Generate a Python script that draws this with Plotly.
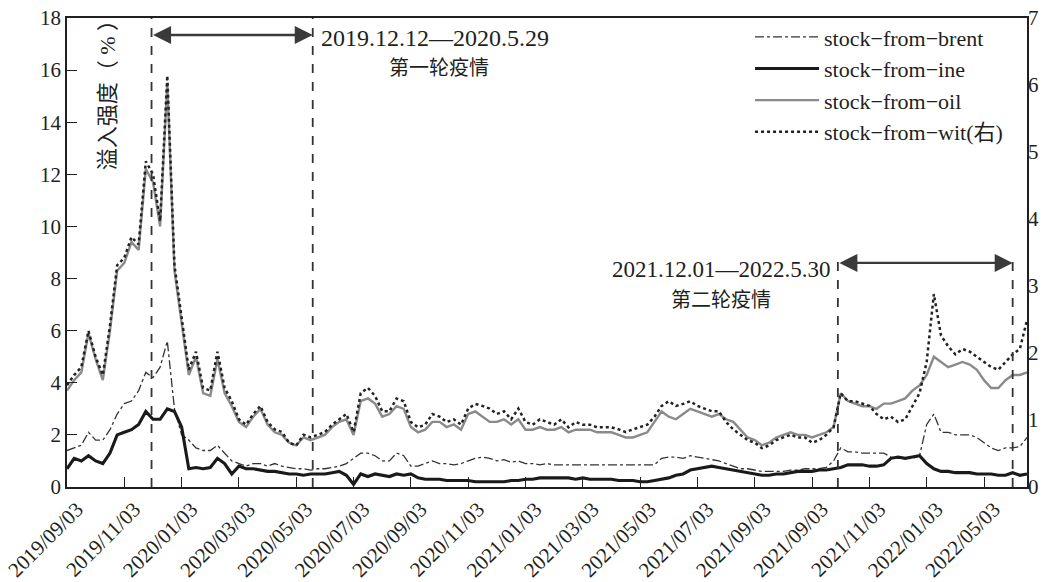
import plotly.graph_objects as go

# ---------------- data (sample index ~ every 5 trading days) ----------------
tick_labels = ["2019/09/03", "2019/11/03", "2020/01/03", "2020/03/03", "2020/05/03",
               "2020/07/03", "2020/09/03", "2020/11/03", "2021/01/03", "2021/03/03",
               "2021/05/03", "2021/07/03", "2021/09/03", "2021/09/03", "2021/11/03",
               "2022/01/03", "2022/05/03"]
tick_positions = [0, 8, 16, 24, 32, 40, 48, 56, 64, 72, 80, 88, 96, 104, 112, 120, 128]

# left axis (%)
brent = [1.4, 1.5, 1.6, 2.1, 1.8, 1.8, 2.2, 2.8, 3.2, 3.3, 3.7, 4.4, 4.2, 4.6, 5.6, 3.0, 2.0,
         1.8, 1.5, 1.4, 1.4, 1.6, 1.3, 1.0, 0.9, 0.8, 0.9, 0.9, 0.8, 0.9, 0.8, 0.75, 0.7, 0.7,
         0.65, 0.7, 0.7, 0.75, 0.8, 0.9, 1.1, 1.3, 1.3, 1.2, 1.0, 1.0, 1.3, 1.2, 0.8, 0.8, 0.9,
         1.0, 0.9, 0.9, 0.85, 0.9, 1.0, 1.1, 1.15, 1.1, 1.0, 1.05, 0.95, 1.0, 0.9, 0.9, 0.85,
         0.9, 0.85, 0.85, 0.85, 0.85, 0.85, 0.85, 0.85, 0.85, 0.85, 0.85, 0.85, 0.85, 0.85,
         0.85, 0.85, 1.1, 1.15, 1.15, 1.1, 1.2, 1.15, 1.1, 1.05, 1.0, 0.9, 0.8, 0.7, 0.7, 0.65,
         0.6, 0.6, 0.6, 0.6, 0.65, 0.65, 0.7, 0.7, 0.7, 0.75, 1.0, 1.5, 1.35, 1.35, 1.3, 1.3,
         1.3, 1.3, 1.15, 1.1, 1.1, 1.1, 1.2, 2.4, 2.8, 2.1, 2.1, 2.0, 2.0, 2.0, 1.9, 1.7, 1.5,
         1.4, 1.5, 1.5, 1.55, 1.9]

ine = [0.7, 1.1, 1.0, 1.2, 1.0, 0.9, 1.3, 2.0, 2.1, 2.2, 2.4, 2.9, 2.6, 2.6, 3.0, 2.9, 2.3,
       0.7, 0.75, 0.7, 0.75, 1.1, 0.9, 0.5, 0.8, 0.7, 0.7, 0.65, 0.6, 0.6, 0.55, 0.5, 0.5, 0.45,
       0.5, 0.5, 0.5, 0.55, 0.6, 0.45, 0.1, 0.5, 0.4, 0.5, 0.45, 0.4, 0.5, 0.45, 0.5, 0.35, 0.3,
       0.3, 0.3, 0.25, 0.25, 0.25, 0.25, 0.2, 0.2, 0.2, 0.2, 0.2, 0.25, 0.25, 0.3, 0.3, 0.35,
       0.35, 0.35, 0.35, 0.35, 0.3, 0.35, 0.3, 0.3, 0.3, 0.3, 0.25, 0.25, 0.25, 0.2, 0.2, 0.25,
       0.3, 0.35, 0.45, 0.5, 0.65, 0.7, 0.75, 0.8, 0.75, 0.7, 0.65, 0.6, 0.55, 0.5, 0.45, 0.45,
       0.5, 0.5, 0.55, 0.6, 0.6, 0.6, 0.65, 0.65, 0.7, 0.75, 0.85, 0.85, 0.85, 0.8, 0.8, 0.85,
       1.1, 1.15, 1.1, 1.15, 1.2, 0.9, 0.7, 0.6, 0.6, 0.55, 0.55, 0.55, 0.5, 0.5, 0.5, 0.45,
       0.45, 0.55, 0.45, 0.5]

oil = [3.7, 4.1, 4.4, 5.9, 4.9, 4.1, 6.0, 8.3, 8.6, 9.4, 9.1, 12.2, 11.7, 10.0, 15.5, 8.3, 6.3,
       4.3, 5.0, 3.6, 3.5, 4.9, 3.6, 3.1, 2.5, 2.3, 2.7, 3.0, 2.4, 2.1, 2.0, 1.7, 1.6, 1.9, 1.8,
       1.9, 2.0, 2.3, 2.5, 2.6, 2.0, 3.3, 3.4, 3.2, 2.7, 2.8, 3.1, 3.0, 2.3, 2.1, 2.2, 2.5, 2.5,
       2.3, 2.4, 2.2, 2.8, 2.9, 2.7, 2.5, 2.5, 2.6, 2.4, 2.6, 2.2, 2.2, 2.3, 2.2, 2.2, 2.3, 2.1,
       2.2, 2.2, 2.2, 2.1, 2.1, 2.1, 2.0, 1.9, 1.9, 2.0, 2.1, 2.5, 2.9, 2.7, 2.6, 2.8, 3.0, 2.9,
       2.8, 2.7, 2.8, 2.6, 2.5, 2.2, 1.9, 1.8, 1.6, 1.7, 1.9, 2.0, 2.1, 2.0, 2.0, 1.9, 2.0, 2.1,
       2.3, 3.6, 3.3, 3.2, 3.1, 3.1, 3.0, 3.2, 3.2, 3.3, 3.4, 3.7, 3.9, 4.3, 5.0, 4.8, 4.6, 4.7,
       4.8, 4.7, 4.5, 4.1, 3.8, 3.8, 4.1, 4.3, 4.3, 4.4]

# right axis
wit = [1.52, 1.67, 1.79, 2.33, 1.94, 1.67, 2.41, 3.31, 3.42, 3.73, 3.62, 4.86, 4.67, 3.97, 6.14,
       3.31, 2.53, 1.75, 2.02, 1.48, 1.44, 2.02, 1.48, 1.28, 1.01, 0.93, 1.09, 1.21, 0.97, 0.86,
       0.82, 0.66, 0.62, 0.78, 0.74, 0.78, 0.82, 0.93, 1.01, 1.09, 0.82, 1.40, 1.48, 1.36, 1.13,
       1.13, 1.32, 1.28, 0.97, 0.89, 0.93, 1.09, 1.05, 0.97, 1.01, 0.93, 1.17, 1.24, 1.21, 1.17,
       1.09, 1.13, 1.01, 1.17, 0.97, 0.93, 1.01, 0.97, 0.93, 1.01, 0.89, 0.97, 0.93, 0.93, 0.89,
       0.89, 0.89, 0.86, 0.82, 0.86, 0.89, 0.93, 1.05, 1.21, 1.28, 1.21, 1.24, 1.28, 1.21, 1.17,
       1.13, 1.13, 0.97, 0.86, 0.78, 0.70, 0.66, 0.58, 0.62, 0.70, 0.74, 0.78, 0.74, 0.74, 0.66,
       0.70, 0.78, 0.89, 1.40, 1.28, 1.28, 1.24, 1.21, 1.09, 1.01, 1.05, 0.97, 1.01, 1.21, 1.40,
       1.87, 2.88, 2.26, 2.10, 1.98, 2.06, 2.02, 1.94, 1.87, 1.79, 1.75, 1.87, 1.98, 2.06, 2.49]

period1 = (11.8, 34.3)      # 2019.12.12 - 2020.5.29 (sample index)
period2 = (107.6, 132.0)    # 2021.12.01 - 2022.5.30 (sample index)
x_max = 134

SERIF = "Liberation Serif, Noto Sans CJK SC, serif"
INK = "#231f20"

fig = go.Figure()

def idx(series):
    return list(range(len(series)))

fig.add_trace(go.Scatter(x=idx(oil), y=oil, mode="lines", name="stock\u2212from\u2212oil",
                         line=dict(color="#8a8a8a", width=2.4), legendrank=3,
                         legendgroup="c"))
fig.add_trace(go.Scatter(x=idx(wit), y=wit, mode="lines", name="stock\u2212from\u2212wit(右)",
                         line=dict(color="#222222", width=2.5, dash="dot"), yaxis="y2",
                         legendrank=4, legendgroup="d"))
fig.add_trace(go.Scatter(x=idx(brent), y=brent, mode="lines", name="stock\u2212from\u2212brent",
                         line=dict(color="#333333", width=1.3, dash="dashdot"), legendrank=1,
                         legendgroup="a"))
fig.add_trace(go.Scatter(x=idx(ine), y=ine, mode="lines", name="stock\u2212from\u2212ine",
                         line=dict(color="#1a1a1a", width=3.1), legendrank=2, legendgroup="b"))

# vertical dashed lines
for xv, ytop in [(period1[0], 18), (period1[1], 18), (period2[0], 8.8), (period2[1], 8.8)]:
    fig.add_shape(type="line", x0=xv, x1=xv, y0=0, y1=ytop, xref="x", yref="y",
                  line=dict(color="#333333", width=1.8, dash="dash"))

# double-headed arrows
for (x0, x1), yv in [(period1, 17.35), (period2, 8.6)]:
    fig.add_annotation(x=x1, y=yv, ax=x0, ay=yv, xref="x", yref="y", axref="x", ayref="y",
                       text="", showarrow=True, arrowhead=2, arrowside="end+start",
                       arrowsize=1.5, arrowwidth=2.4, arrowcolor="#3a3a3a")

lat_font = dict(family=SERIF, size=23, color=INK)
cjk_font = dict(family=SERIF, size=20, color=INK)
fig.add_annotation(x=51.4, y=17.23, xref="x", yref="y", text="2019.12.12\u20142020.5.29",
                   showarrow=False, font=dict(family=SERIF, size=24, color=INK))
fig.add_annotation(x=51.9, y=16.08, xref="x", yref="y", text="第一轮疫情",
                   showarrow=False, font=cjk_font)
fig.add_annotation(x=91.3, y=8.33, xref="x", yref="y", text="2021.12.01\u20142022.5.30",
                   showarrow=False, font=lat_font)
fig.add_annotation(x=91.3, y=7.18, xref="x", yref="y", text="第二轮疫情",
                   showarrow=False, font=cjk_font)

# y-axis title inside plot
fig.add_annotation(x=5.7, y=12.09, xref="x", yref="y", yanchor="bottom",
                   text="溢入强度（ % ）", textangle=-90,
                   showarrow=False, font=dict(family=SERIF, size=22, color=INK))

fig.update_layout(
    width=1050, height=582,
    margin=dict(l=67, r=23, t=18, b=95),
    paper_bgcolor="white", plot_bgcolor="white",
    font=dict(family=SERIF, size=21, color=INK),
    showlegend=True,
    legend=dict(x=0.7115, y=1.004, xanchor="left", yanchor="top", bgcolor="rgba(0,0,0,0)",
                font=dict(family=SERIF, size=22, color=INK), traceorder="grouped",
                tracegroupgap=0, itemwidth=64),
    xaxis=dict(range=[0, x_max], tickmode="array", tickvals=tick_positions,
               ticktext=tick_labels, tickangle=-45, ticks="inside", ticklen=10,
               tickcolor=INK, showline=True, linecolor=INK, linewidth=1.5, mirror=True,
               showgrid=False, zeroline=False, ticklabeloverflow="allow", ticklabelshift=10,
               tickfont=dict(family=SERIF, size=21, color=INK), automargin=False),
    yaxis=dict(range=[0, 18], dtick=2, ticks="inside", ticklen=10, tickcolor=INK,
               showline=True, linecolor=INK, linewidth=1.5, mirror=True, showgrid=False,
               zeroline=False, ticklabeloverflow="allow",
               tickfont=dict(family=SERIF, size=21, color=INK), automargin=False),
    yaxis2=dict(range=[0, 7], dtick=1, overlaying="y", side="right", ticks="",
                showgrid=False, zeroline=False, showline=False, ticklabeloverflow="allow",
                tickfont=dict(family=SERIF, size=21, color=INK), automargin=False),
)

fig.write_html("out.html", config={"displayModeBar": False},
               post_script="document.body.style.margin='0';")
